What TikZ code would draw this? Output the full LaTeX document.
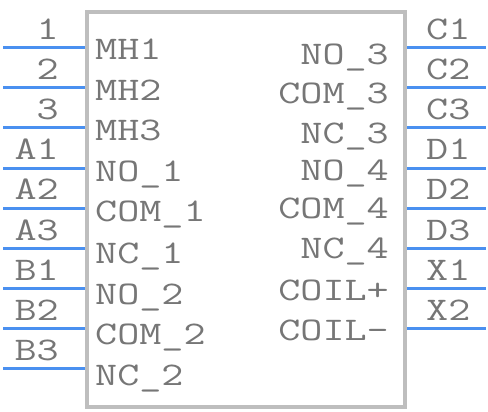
\documentclass[tikz,border=0pt]{standalone}
\usepackage{fontspec}
\newfontfamily\pinfont{Latin Modern Mono}[FakeStretch=1.3]
\definecolor{pinblue}{RGB}{74,144,240}
\definecolor{boxgray}{RGB}{190,190,190}
\definecolor{txtgray}{RGB}{118,118,118}
\begin{document}
\begin{tikzpicture}[x=1pt,y=-1pt,
  lbl/.style={inner sep=0pt, font=\pinfont\fontsize{33}{33}\selectfont, text=txtgray},
  pinline/.style={draw=pinblue, line width=3pt}]
\useasboundingbox (0,0) rectangle (488,412);
% left pins
\foreach \i/\num/\name/\ny in {0/1/MH1/60, 1/2/MH2/101, 2/3/MH3/141, 3/A1/NO\_1/182, 4/A2/COM\_1/222, 5/A3/NC\_1/263, 6/B1/NO\_2/304, 7/B2/COM\_2/344, 8/B3/NC\_2/385}{
  \coordinate (la\i) at (3,48+40*\i);
  \coordinate (lb\i) at (85,48+40*\i);
  \draw[pinline] (la\i) -- (lb\i);
  \node[lbl, anchor=base east] (ln\i) at (59,40+40*\i) {\num};
  \node[lbl, anchor=base west] (li\i) at (95,\ny) {\name};
}
% right pins
\foreach \i/\num/\name/\ny in {0/C1/NO\_3/65, 1/C2/COM\_3/104, 2/C3/NC\_3/143, 3/D1/NO\_4/180, 4/D2/COM\_4/218, 5/D3/NC\_4/258, 6/X1/COIL+/300, 7/X2/COIL-/340}{
  \coordinate (ra\i) at (486,48+40*\i);
  \coordinate (rb\i) at (403,48+40*\i);
  \draw[pinline] (rb\i) -- (ra\i);
  \node[lbl, anchor=base west] (rn\i) at (426,40+40*\i) {\num};
  \node[lbl, anchor=base east] (ri\i) at (389,\ny) {\name};
}
% body
\node[draw=boxgray, line width=4pt, minimum width=318pt, minimum height=395pt, inner sep=0pt, anchor=north west] (body) at (85,10) {};
\end{tikzpicture}
\end{document}
